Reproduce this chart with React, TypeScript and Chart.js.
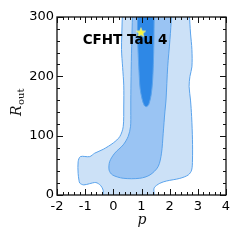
import React, { useEffect, useRef } from "react";
import { Chart, registerables } from "chart.js";

Chart.register(...registerables);

// ---- data ----
const xTicks = [-2, -1, 0, 1, 2, 3, 4];
const yTicks = [0, 100, 200, 300];

const outerX = [0.32, 0.30, 0.29, 0.33, 0.37, 0.37, 0.35, 0.23, 0.0, -0.36, -0.66, -0.84, -1.17, -1.25, -1.25, -1.22, -1.19, -1.05, -0.85, -0.62, -0.45, -0.36, -0.34, 1.41, 1.45, 1.65, 1.89, 2.36, 2.66, 2.78, 2.81, 2.81, 2.78, 2.74, 2.69, 2.72, 2.79, 2.79, 2.74, 2.70];
const outerY = [303, 270, 245, 215, 185, 150, 115, 98.5, 87.8, 77, 70.5, 64.7, 64.7, 56, 36.6, 25, 20, 17, 19, 21, 16, 8, -3, -3, 12, 19.7, 23.6, 28, 33.8, 42, 59, 93, 132, 160, 183, 200, 216, 245, 273, 303];

const midX = [0.68, 0.65, 0.63, 0.62, 0.62, 0.61, 0.525, 0.35, 0.05, -0.13, -0.15, -0.03, 0.35, 0.94, 1.30, 1.59, 1.71, 1.77, 1.83, 1.87, 1.93, 2.01, 2.07];
const midY = [303, 250, 200, 160, 140, 115, 98.5, 84.5, 70.5, 56.3, 42, 33.8, 28.2, 28.2, 33.8, 47.8, 70.5, 104, 140, 160, 216, 262, 303];

const innerX = [0.86, 0.86, 0.88, 0.91, 0.95, 1.02, 1.1, 1.18, 1.26, 1.34, 1.39, 1.42, 1.44, 1.45];
const innerY = [303, 270, 240, 210, 180, 162, 151, 149, 153, 168, 190, 220, 260, 303];

const starX = [0.98];
const starY = [274];

const titleText = "CFHT Tau 4";

const toPts = (xs: number[], ys: number[]) => xs.map((x, i) => ({ x, y: ys[i] }));

function makeStar(): HTMLCanvasElement {
  const c = document.createElement("canvas");
  c.width = 12;
  c.height = 12;
  const ctx = c.getContext("2d")!;
  ctx.beginPath();
  const cx = 6, cy = 6.3, R = 5, r = 2.1;
  for (let i = 0; i < 10; i++) {
    const a = -Math.PI / 2 + (i * Math.PI) / 5;
    const rad = i % 2 === 0 ? R : r;
    const px = cx + rad * Math.cos(a);
    const py = cy + rad * Math.sin(a);
    if (i === 0) ctx.moveTo(px, py);
    else ctx.lineTo(px, py);
  }
  ctx.closePath();
  ctx.fillStyle = "#f5f53a";
  ctx.fill();
  ctx.strokeStyle = "#fbfb9a";
  ctx.lineWidth = 0.6;
  ctx.stroke();
  return c;
}

const framePlugin = {
  id: "framePlugin",
  afterDatasetsDraw(chart: any) {
    const { ctx } = chart;
    ctx.save();
    ctx.fillStyle = "#000";
    ctx.font = "bold 13.5px 'DejaVu Sans'";
    ctx.textAlign = "center";
    ctx.textBaseline = "alphabetic";
    ctx.fillText(titleText, 125, 44.3);
    ctx.restore();
  },
  afterDraw(chart: any) {
    const { ctx, chartArea } = chart;
    const xs = chart.scales.x;
    const ys = chart.scales.y;
    const { left, right, top, bottom } = chartArea;
    ctx.save();
    ctx.strokeStyle = "#111";
    ctx.lineWidth = 1;
    const xmin = xs.min, xmax = xs.max;
    for (let i = 0; i <= Math.round((xmax - xmin) / 0.2); i++) {
      const v = xmin + i * 0.2;
      const major = Math.abs(v - Math.round(v)) < 1e-6;
      const len = major ? 6 : 3;
      const px = Math.round(xs.getPixelForValue(v)) + 0.5;
      ctx.beginPath();
      ctx.moveTo(px, bottom);
      ctx.lineTo(px, bottom - len);
      ctx.moveTo(px, top);
      ctx.lineTo(px, top + len);
      ctx.stroke();
    }
    const ymin = ys.min, ymax = ys.max;
    for (let i = 0; i <= Math.round((ymax - ymin) / 20); i++) {
      const v = ymin + i * 20;
      const major = v % 100 === 0;
      const len = major ? 6 : 3;
      const py = Math.round(ys.getPixelForValue(v)) + 0.5;
      ctx.beginPath();
      ctx.moveTo(left, py);
      ctx.lineTo(left + len, py);
      ctx.moveTo(right, py);
      ctx.lineTo(right - len, py);
      ctx.stroke();
    }
    ctx.strokeStyle = "#111";
    ctx.lineWidth = 1.3;
    ctx.strokeRect(left, top, right - left, bottom - top);

    // y axis title R_out (rotated)
    ctx.fillStyle = "#111";
    ctx.translate(21, 116);
    ctx.rotate(-Math.PI / 2);
    ctx.textBaseline = "alphabetic";
    ctx.textAlign = "left";
    ctx.font = "italic 14px 'DejaVu Serif'";
    ctx.fillText("R", 0, 0);
    const w = ctx.measureText("R").width;
    ctx.font = "10px 'DejaVu Serif'";
    ctx.fillText("out", w + 0.5, 2.6);
    ctx.setTransform(1, 0, 0, 1, 0, 0);

    // x axis title p
    ctx.font = "italic 14px 'DejaVu Serif'";
    ctx.textAlign = "center";
    ctx.fillText("p", (left + right) / 2 + 0.5, 224);
    ctx.restore();
  },
};

export default function App() {
  const ref = useRef<HTMLCanvasElement>(null);
  useEffect(() => {
    if (!ref.current) return;
    const starImg = makeStar();
    const common = {
      pointRadius: 0,
      borderColor: "#5aa3ec",
      borderWidth: 1,
      tension: 0.3,
      fill: "shape",
      clip: 0,
    };
    const chart = new Chart(ref.current, {
      type: "line",
      data: {
        datasets: [
          { ...common, data: toPts(innerX, innerY), backgroundColor: "#2e88e6", order: 1 } as any,
          { ...common, data: toPts(midX, midY), backgroundColor: "#9ac4f3", order: 2 } as any,
          { ...common, data: toPts(outerX, outerY), backgroundColor: "#cce1f7", order: 3 } as any,
          {
            data: toPts(starX, starY),
            showLine: false,
            pointStyle: starImg,
            pointRadius: 6,
            order: 0,
            clip: 10,
          } as any,
        ],
      },
      options: {
        animation: false,
        responsive: false,
        maintainAspectRatio: false,
        events: [],
        layout: { padding: { top: 17, right: 14, left: 0, bottom: 0 } },
        plugins: {
          legend: { display: false },
          tooltip: { enabled: false },
        },
        scales: {
          x: {
            type: "linear",
            min: xTicks[0],
            max: xTicks[xTicks.length - 1],
            afterBuildTicks: (s: any) => {
              s.ticks = xTicks.map((v) => ({ value: v }));
            },
            afterFit: (s: any) => {
              s.height = 45;
            },
            grid: { display: false, drawTicks: false },
            border: { display: false },
            ticks: {
              color: "#000",
              padding: 4,
              font: { family: "'DejaVu Sans'", size: 13 },
              maxRotation: 0,
              autoSkip: false,
            },
          },
          y: {
            type: "linear",
            min: yTicks[0],
            max: yTicks[yTicks.length - 1],
            afterBuildTicks: (s: any) => {
              s.ticks = yTicks.map((v) => ({ value: v }));
            },
            afterFit: (s: any) => {
              s.width = 57;
            },
            grid: { display: false, drawTicks: false },
            border: { display: false },
            ticks: {
              color: "#000",
              padding: 3,
              font: { family: "'DejaVu Sans'", size: 13 },
              autoSkip: false,
            },
          },
        },
      },
      plugins: [framePlugin],
    } as any);
    return () => chart.destroy();
  }, []);
  return (
    <div style={{ position: "fixed", left: 0, top: 0, width: 240, height: 240, background: "#fff" }}>
      <canvas ref={ref} width={240} height={240} style={{ width: 240, height: 240, display: "block" }} />
    </div>
  );
}
